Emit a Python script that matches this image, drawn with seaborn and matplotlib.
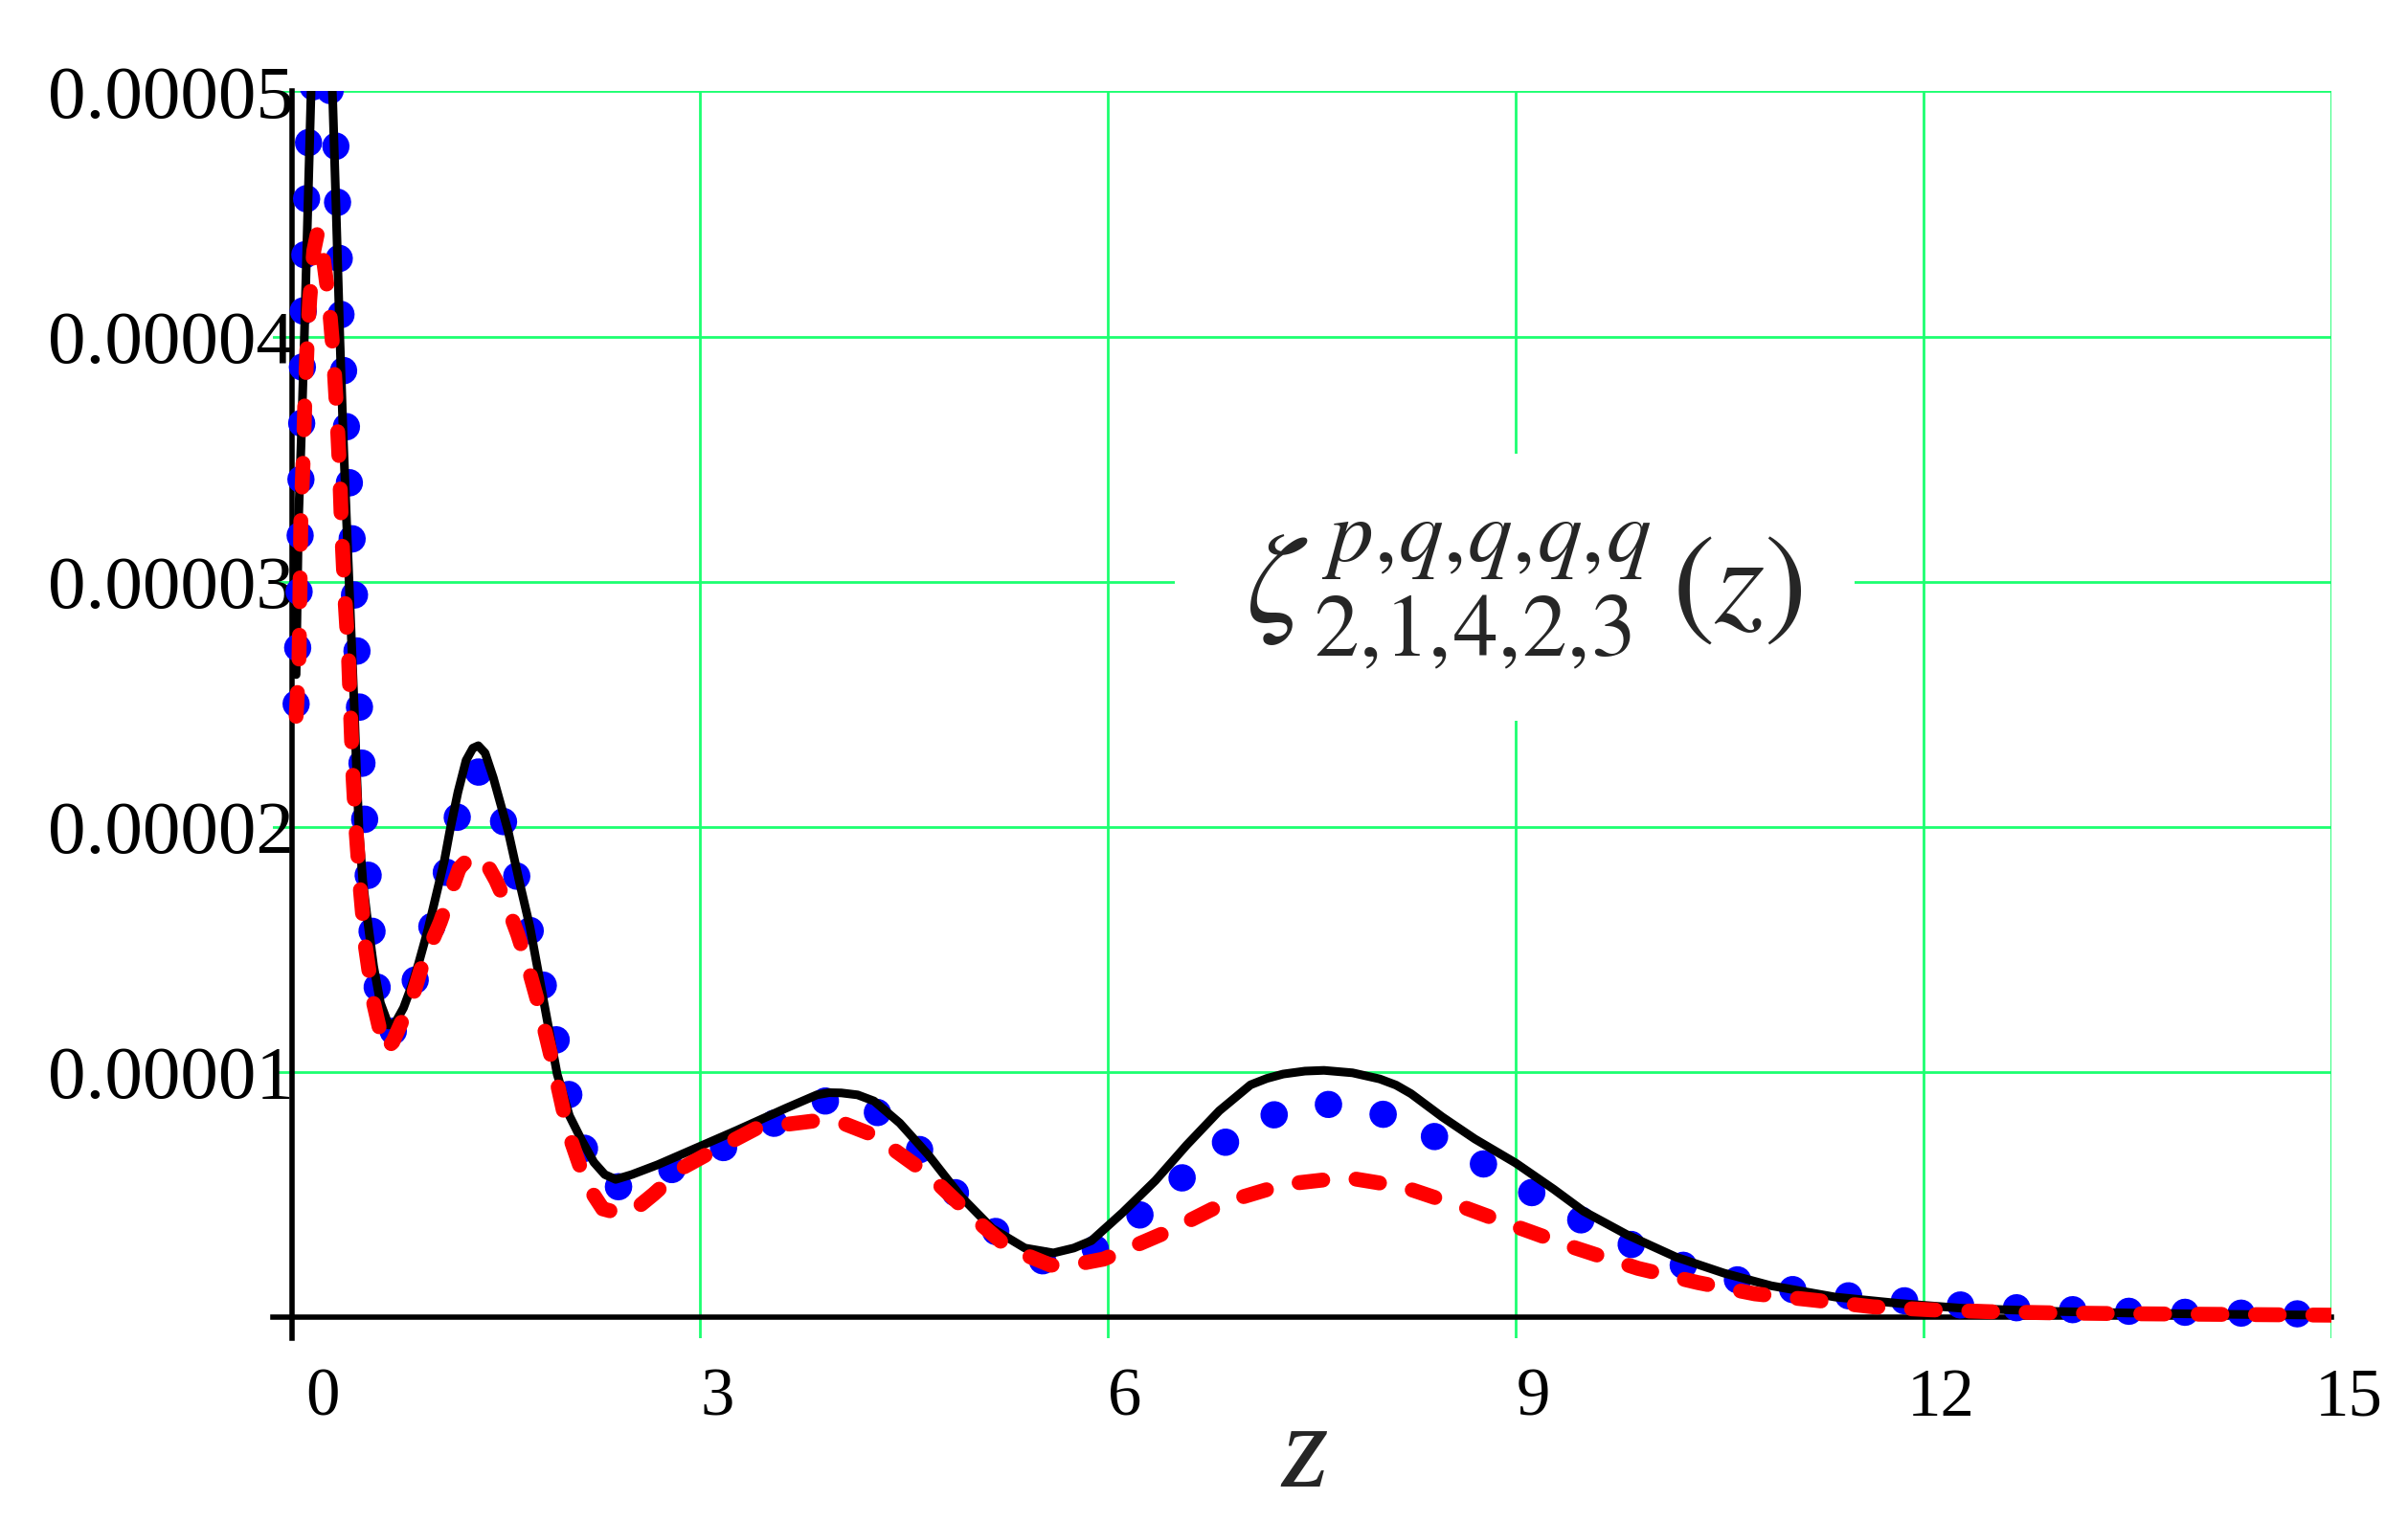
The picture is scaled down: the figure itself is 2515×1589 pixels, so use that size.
import matplotlib
matplotlib.use("Agg")
import matplotlib.pyplot as plt
import seaborn as sns
import pandas as pd
from matplotlib.transforms import ScaledTranslation
from matplotlib.patches import Rectangle

# ---------------- data ----------------
z_black = [0.03, 0.047, 0.07, 0.09, 0.115, 0.14, 0.17, 0.2, 0.23, 0.26, 0.28, 0.30, 0.325, 0.352,
           0.376, 0.40, 0.42, 0.44, 0.458, 0.475, 0.493, 0.52, 0.55, 0.60, 0.65, 0.71, 0.76, 0.82,
           0.88, 0.93, 1.00, 1.06, 1.12, 1.16, 1.22, 1.28, 1.33, 1.37, 1.42, 1.48, 1.54, 1.59, 1.67,
           1.75, 1.85, 1.95, 2.04, 2.13, 2.22, 2.30, 2.38, 2.50, 2.69, 2.98, 3.27, 3.63, 3.86, 3.95,
           4.04, 4.16, 4.28, 4.47, 4.68, 4.92, 5.15, 5.39, 5.60, 5.75, 5.88, 6.11, 6.35, 6.58, 6.82,
           7.05, 7.17, 7.29, 7.45, 7.59, 7.80, 8.00, 8.12, 8.23, 8.46, 8.70, 9.00, 9.28, 9.50, 9.82,
           10.18, 10.53, 10.88, 11.35, 11.82, 12.29, 12.99, 13.5, 14.0, 14.5, 15.0]
v_black = [2.62e-5, 3.24e-5, 3.62e-5, 3.99e-5, 4.5e-5, 5.0e-5, 5.42e-5, 5.62e-5, 5.6e-5, 5.4e-5,
           5.2e-5, 4.95e-5, 4.5e-5, 3.99e-5, 3.6e-5, 3.26e-5, 2.99e-5, 2.72e-5, 2.48e-5, 2.22e-5,
           1.98e-5, 1.78e-5, 1.64e-5, 1.43e-5, 1.28e-5, 1.19e-5, 1.2e-5, 1.26e-5, 1.35e-5, 1.44e-5,
           1.58e-5, 1.72e-5, 1.86e-5, 1.98e-5, 2.14e-5, 2.27e-5, 2.32e-5, 2.33e-5, 2.3e-5, 2.2e-5,
           2.08e-5, 1.98e-5, 1.78e-5, 1.59e-5, 1.29e-5, 0.99e-5, 0.82e-5, 0.72e-5, 0.63e-5, 0.58e-5,
           0.56e-5, 0.58e-5, 0.62e-5, 0.69e-5, 0.76e-5, 0.85e-5, 0.905e-5, 0.914e-5, 0.913e-5,
           0.905e-5, 0.88e-5, 0.79e-5, 0.66e-5, 0.49e-5, 0.36e-5, 0.28e-5, 0.26e-5, 0.28e-5, 0.31e-5,
           0.425e-5, 0.555e-5, 0.70e-5, 0.84e-5, 0.946e-5, 0.972e-5, 0.99e-5, 1.002e-5, 1.005e-5,
           0.995e-5, 0.97e-5, 0.945e-5, 0.91e-5, 0.815e-5, 0.725e-5, 0.627e-5, 0.52e-5, 0.43e-5,
           0.334e-5, 0.243e-5, 0.178e-5, 0.126e-5, 0.08e-5, 0.054e-5, 0.034e-5, 0.021e-5, 0.015e-5,
           0.011e-5, 0.008e-5, 0.006e-5]

z_blue = [0.03, 0.05, 0.06, 0.07, 0.08, 0.10, 0.125, 0.16, 0.21, 0.26, 0.295, 0.317, 0.34, 0.364,
          0.387, 0.41, 0.434, 0.455, 0.475, 0.495, 0.515, 0.535, 0.56, 0.60, 0.65, 0.70, 0.76, 0.82,
          0.88, 0.94, 1.00, 1.06, 1.12, 1.18, 1.24, 1.31, 1.36, 1.42, 1.53, 1.62, 1.72, 1.81, 1.91,
          2.00, 2.10, 2.20, 2.29, 2.40, 2.66, 3.06, 3.44, 3.86, 4.05, 4.23, 4.64, 4.96, 5.36, 5.56,
          5.76, 5.95, 6.15, 6.55, 6.95, 7.34, 7.73, 8.13, 8.53, 8.93, 9.32, 9.72, 10.11, 10.50,
          10.90, 11.29, 11.69, 12.08, 12.5, 13.0, 13.5, 14.0, 14.5, 15.0]
v_blue = [2.5e-5, 2.9e-5, 3.2e-5, 3.6e-5, 4.05e-5, 4.45e-5, 4.85e-5, 5.05e-5, 5.12e-5, 5.05e-5,
          4.97e-5, 4.88e-5, 4.45e-5, 4.02e-5, 3.78e-5, 3.52e-5, 3.28e-5, 3.0e-5, 2.75e-5, 2.5e-5,
          2.25e-5, 2.02e-5, 1.8e-5, 1.48e-5, 1.22e-5, 1.15e-5, 1.17e-5, 1.24e-5, 1.33e-5, 1.43e-5,
          1.54e-5, 1.65e-5, 1.77e-5, 1.95e-5, 2.1e-5, 2.22e-5, 2.23e-5, 2.19e-5, 2.08e-5, 1.87e-5,
          1.65e-5, 1.44e-5, 1.21e-5, 0.99e-5, 0.756e-5, 0.62e-5, 0.54e-5, 0.53e-5, 0.57e-5, 0.66e-5,
          0.76e-5, 0.875e-5, 0.89e-5, 0.87e-5, 0.67e-5, 0.45e-5, 0.26e-5, 0.22e-5, 0.23e-5, 0.29e-5,
          0.373e-5, 0.568e-5, 0.75e-5, 0.855e-5, 0.87e-5, 0.81e-5, 0.70e-5, 0.568e-5, 0.44e-5,
          0.327e-5, 0.23e-5, 0.165e-5, 0.12e-5, 0.093e-5, 0.073e-5, 0.054e-5, 0.04e-5, 0.03e-5,
          0.022e-5, 0.017e-5, 0.013e-5, 0.01e-5]

z_red = [0.03, 0.05, 0.056, 0.065, 0.082, 0.094, 0.11, 0.13, 0.16, 0.19, 0.23, 0.27, 0.305, 0.33,
         0.35, 0.364, 0.387, 0.415, 0.43, 0.446, 0.47, 0.50, 0.54, 0.60, 0.68, 0.74, 0.82, 0.90,
         0.96, 1.09, 1.23, 1.30, 1.37, 1.44, 1.50, 1.58, 1.66, 1.74, 1.81, 1.88, 1.94, 2.03, 2.16,
         2.285, 2.42, 2.55, 2.66, 2.88, 3.11, 3.42, 3.86, 4.05, 4.28, 4.68, 5.04, 5.27, 5.58, 5.83,
         5.97, 6.44, 6.88, 7.30, 7.75, 8.17, 8.60, 9.04, 9.44, 9.90, 10.34, 10.76, 11.20, 11.63,
         12.05, 12.5, 13.0, 13.5, 14.0, 14.5, 15.0]
v_red = [2.45e-5, 2.65e-5, 2.85e-5, 3.26e-5, 3.5e-5, 3.73e-5, 3.95e-5, 4.15e-5, 4.35e-5, 4.43e-5,
         4.32e-5, 4.15e-5, 3.92e-5, 3.68e-5, 3.45e-5, 3.22e-5, 2.95e-5, 2.70e-5, 2.47e-5, 2.23e-5,
         1.99e-5, 1.76e-5, 1.51e-5, 1.28e-5, 1.087e-5, 1.12e-5, 1.22e-5, 1.33e-5, 1.44e-5, 1.61e-5,
         1.83e-5, 1.87e-5, 1.88e-5, 1.84e-5, 1.78e-5, 1.68e-5, 1.56e-5, 1.42e-5, 1.28e-5, 1.12e-5,
         0.98e-5, 0.755e-5, 0.546e-5, 0.44e-5, 0.42e-5, 0.45e-5, 0.50e-5, 0.61e-5, 0.68e-5, 0.77e-5,
         0.80e-5, 0.79e-5, 0.74e-5, 0.58e-5, 0.39e-5, 0.28e-5, 0.21e-5, 0.22e-5, 0.235e-5, 0.347e-5,
         0.47e-5, 0.54e-5, 0.568e-5, 0.53e-5, 0.45e-5, 0.36e-5, 0.28e-5, 0.197e-5, 0.139e-5,
         0.093e-5, 0.067e-5, 0.04e-5, 0.028e-5, 0.02e-5, 0.015e-5, 0.012e-5, 0.01e-5, 0.008e-5,
         0.006e-5]

x_ticks = [0, 3, 6, 9, 12, 15]
x_tick_labels = ["0", "3", "6", "9", "12", "15"]
y_ticks = [1e-5, 2e-5, 3e-5, 4e-5, 5e-5]
y_tick_labels = ["0.00001", "0.00002", "0.00003", "0.00004", "0.00005"]
x_label = "z"
curve_label = r"$\zeta^{\,p,\!q,\!q,\!q,\!q}_{\,2,\!1,\!4,\!2,\!3}\,(z)$"

# ---------------- style ----------------
sns.set_style("white")
plt.rcParams["font.family"] = ["Liberation Serif", "DejaVu Serif"]
plt.rcParams["mathtext.fontset"] = "stix"

fig = plt.figure(figsize=(25.15, 15.89), dpi=100)
fig.patch.set_facecolor("white")
ax = fig.add_axes([0.11332, 0.11989, 0.85487, 0.82001])
ax.set_facecolor("white")

df_black = pd.DataFrame({"z": z_black, "v": v_black})
df_blue = pd.DataFrame({"z": z_blue, "v": v_blue})
df_red = pd.DataFrame({"z": z_red, "v": v_red})

sns.lineplot(data=df_blue, x="z", y="v", ax=ax, color="#0000FF", linewidth=20.5,
             linestyle=(0, (0.01, 2.05)), dash_capstyle="round",
             estimator=None, sort=False, zorder=3)
sns.lineplot(data=df_black, x="z", y="v", ax=ax, color="black", linewidth=6.5,
             solid_capstyle="round", solid_joinstyle="round",
             estimator=None, sort=False, zorder=4)
sns.lineplot(data=df_red, x="z", y="v", ax=ax, color="#FF0000", linewidth=11.2,
             linestyle=(0, (1.6, 2.25)), dash_capstyle="round",
             estimator=None, sort=False, zorder=5)

ax.set_xlim(-0.141, 15.0)
ax.set_ylim(-0.0898e-5, 5e-5)

for s in ["top", "right"]:
    ax.spines[s].set_visible(False)
for s in ["left", "bottom"]:
    ax.spines[s].set_position(("data", 0))
    ax.spines[s].set_linewidth(4)
    ax.spines[s].set_color("black")
    ax.spines[s].set_zorder(1.5)

ax.set_axisbelow(True)
ax.set_xticks(x_ticks)
ax.set_xticklabels(x_tick_labels)
ax.set_yticks(y_ticks)
ax.set_yticklabels(y_tick_labels)
ax.grid(True, color="#1CFF70", linewidth=2)

ax.tick_params(axis="x", direction="inout", length=33, width=3.5, pad=22,
               labelsize=51, color="black", labelcolor="black")
ax.tick_params(axis="y", direction="inout", length=31, width=3.5, pad=-17,
               labelsize=57, color="black", labelcolor="black")

ax.set_xlabel(x_label, fontsize=90, fontstyle="italic", va="baseline")
ax.xaxis.set_label_coords(0.5014, -0.1186)
ax.set_ylabel("")

# white box behind the curve label (interrupts the grid)
ax.add_patch(Rectangle((6.49, 2.43e-5), 5.0, 1.09e-5, facecolor="white",
                       edgecolor="none", zorder=1))
ax.text(9.06, 2.83e-5, curve_label, ha="center", va="baseline", fontsize=96, zorder=6)

# x tick labels sit a little to the right of their ticks
for lab in ax.get_xticklabels():
    dx = 32 if lab.get_text() == "0" else 18
    lab.set_transform(lab.get_transform() + ScaledTranslation(dx / 100, 0, fig.dpi_scale_trans))

fig.savefig("out.png", dpi=100, facecolor="white")
